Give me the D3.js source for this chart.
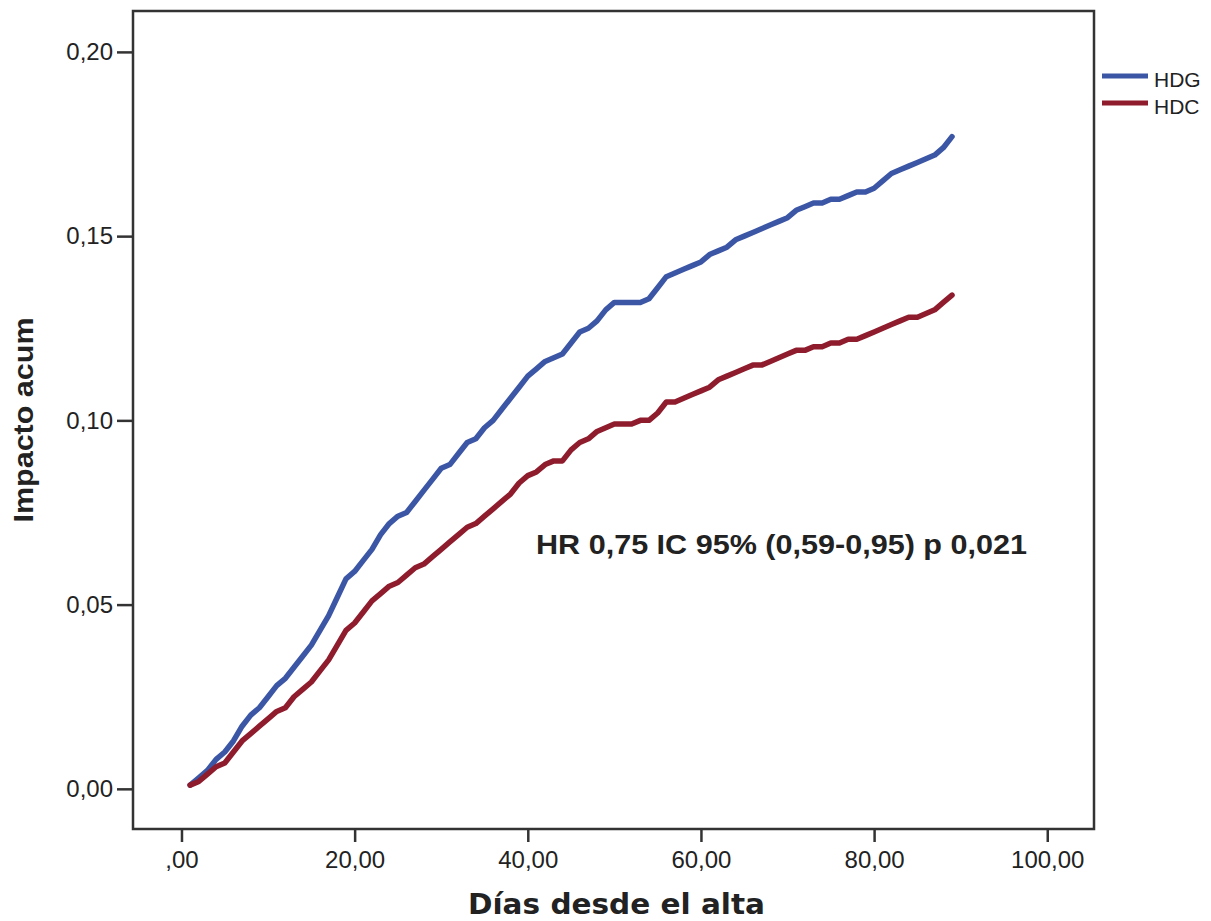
<!DOCTYPE html>
<html>
<head>
<meta charset="utf-8">
<script src="https://cdn.jsdelivr.net/npm/d3@7"></script>
<style>
  html, body { margin: 0; padding: 0; background: #fff; }
  svg { display: block; }
  text { font-family: Arial, "Liberation Sans", sans-serif; fill: #222; }
</style>
</head>
<body>
<svg id="chart" width="1211" height="921"></svg>
<script>
// days since discharge (1..89)
const days = d3.range(1, 90);

// cumulative incidence, HDG
const hdg = [
  0.001, 0.003, 0.005, 0.008, 0.010, 0.013, 0.017, 0.020, 0.022, 0.025,
  0.028, 0.030, 0.033, 0.036, 0.039, 0.043, 0.047, 0.052, 0.057, 0.059,
  0.062, 0.065, 0.069, 0.072, 0.074, 0.075, 0.078, 0.081, 0.084, 0.087,
  0.088, 0.091, 0.094, 0.095, 0.098, 0.100, 0.103, 0.106, 0.109, 0.112,
  0.114, 0.116, 0.117, 0.118, 0.121, 0.124, 0.125, 0.127, 0.130, 0.132,
  0.132, 0.132, 0.132, 0.133, 0.136, 0.139, 0.140, 0.141, 0.142, 0.143,
  0.145, 0.146, 0.147, 0.149, 0.150, 0.151, 0.152, 0.153, 0.154, 0.155,
  0.157, 0.158, 0.159, 0.159, 0.160, 0.160, 0.161, 0.162, 0.162, 0.163,
  0.165, 0.167, 0.168, 0.169, 0.170, 0.171, 0.172, 0.174, 0.177
];

// cumulative incidence, HDC
const hdc = [
  0.001, 0.002, 0.004, 0.006, 0.007, 0.010, 0.013, 0.015, 0.017, 0.019,
  0.021, 0.022, 0.025, 0.027, 0.029, 0.032, 0.035, 0.039, 0.043, 0.045,
  0.048, 0.051, 0.053, 0.055, 0.056, 0.058, 0.060, 0.061, 0.063, 0.065,
  0.067, 0.069, 0.071, 0.072, 0.074, 0.076, 0.078, 0.080, 0.083, 0.085,
  0.086, 0.088, 0.089, 0.089, 0.092, 0.094, 0.095, 0.097, 0.098, 0.099,
  0.099, 0.099, 0.100, 0.100, 0.102, 0.105, 0.105, 0.106, 0.107, 0.108,
  0.109, 0.111, 0.112, 0.113, 0.114, 0.115, 0.115, 0.116, 0.117, 0.118,
  0.119, 0.119, 0.120, 0.120, 0.121, 0.121, 0.122, 0.122, 0.123, 0.124,
  0.125, 0.126, 0.127, 0.128, 0.128, 0.129, 0.130, 0.132, 0.134
];

const seriesNames = ['HDG', 'HDC'];
const seriesColors = ['#3c56a6', '#8e1c2c'];
const xTicks = [0, 20, 40, 60, 80, 100];
const yTicks = [0, 0.05, 0.10, 0.15, 0.20];

const annotation = 'HR 0,75 IC 95% (0,59-0,95) p 0,021';

// plot frame
const frame = { left: 133, right: 1094, top: 11, bottom: 829 };

const svg = d3.select('#chart');

const x = d3.scaleLinear().domain([-5.6, 105.4]).range([frame.left, frame.right]);
const y = d3.scaleLinear().domain([-0.0109, 0.2111]).range([frame.bottom, frame.top]);

const es = d3.formatLocale({ decimal: ',', thousands: '.', grouping: [3] });
const f2 = es.format('.2f');

// x axis
const gx = svg.append('g')
    .attr('transform', `translate(0,${frame.bottom})`)
    .call(d3.axisBottom(x).tickValues(xTicks).tickSize(13).tickPadding(9)
        .tickFormat(d => f2(d).replace(/^0,/, ',')));
gx.select('.domain').remove();
gx.selectAll('.tick line').attr('stroke', '#333').attr('stroke-width', 2.5);
gx.selectAll('.tick text')
    .attr('font-size', 24).attr('fill', '#333')
    .style('font-family', 'Arial, "Liberation Sans", sans-serif');

// y axis
const gy = svg.append('g')
    .attr('transform', `translate(${frame.left},0)`)
    .call(d3.axisLeft(y).tickValues(yTicks).tickSize(16).tickPadding(4).tickFormat(f2));
gy.select('.domain').remove();
gy.selectAll('.tick line').attr('stroke', '#333').attr('stroke-width', 2.5);
gy.selectAll('.tick text')
    .attr('font-size', 24).attr('fill', '#333')
    .style('font-family', 'Arial, "Liberation Sans", sans-serif');

// frame
svg.append('rect')
    .attr('x', frame.left).attr('y', frame.top)
    .attr('width', frame.right - frame.left).attr('height', frame.bottom - frame.top)
    .attr('fill', 'none')
    .attr('stroke', '#333')
    .attr('stroke-width', 2.5);

// curves
const line = d3.line()
    .x(d => x(d[0]))
    .y(d => y(d[1]))
    .curve(d3.curveLinear);

[hdg, hdc].forEach((vals, i) => {
    svg.append('path')
        .datum(days.map((d, j) => [d, vals[j]]))
        .attr('fill', 'none')
        .attr('stroke', seriesColors[i])
        .attr('stroke-width', 5.5)
        .attr('stroke-linejoin', 'round')
        .attr('stroke-linecap', 'round')
        .attr('d', line);
});

// legend
const lg = svg.append('g');
seriesNames.forEach((name, i) => {
    const ly = 76 + i * 27;
    lg.append('line')
        .attr('x1', 1102).attr('x2', 1148)
        .attr('y1', ly).attr('y2', ly)
        .attr('stroke', seriesColors[i])
        .attr('stroke-width', 5);
    lg.append('text')
        .attr('x', 1154).attr('y', ly + 11)
        .attr('font-size', 21)
        .attr('fill', '#333')
        .text(name);
});

// annotation
svg.append('text')
    .attr('x', 536).attr('y', 554)
    .attr('font-size', 28)
    .attr('font-weight', 'bold')
    .attr('textLength', 491)
    .attr('lengthAdjust', 'spacingAndGlyphs')
    .attr('fill', '#111')
    .text(annotation);

// axis titles
svg.append('text')
    .attr('x', 468).attr('y', 914)
    .attr('font-size', 28)
    .attr('font-weight', 'bold')
    .attr('textLength', 297)
    .attr('lengthAdjust', 'spacingAndGlyphs')
    .attr('fill', '#111')
    .style('font-family', '"DejaVu Sans", Verdana, sans-serif')
    .text('Días desde el alta');

svg.append('text')
    .attr('transform', 'translate(33,420) rotate(-90)')
    .attr('text-anchor', 'middle')
    .attr('font-size', 27)
    .attr('font-weight', 'bold')
    .attr('textLength', 205)
    .attr('lengthAdjust', 'spacingAndGlyphs')
    .attr('fill', '#111')
    .text('Impacto acum');
</script>
</body>
</html>
